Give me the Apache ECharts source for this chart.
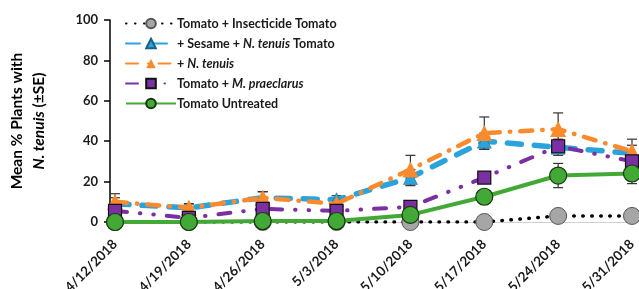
<!DOCTYPE html>
<html>
<head>
<meta charset="utf-8">
<script src="https://cdn.jsdelivr.net/npm/echarts@6/dist/echarts.min.js"></script>
<style>
  html, body { margin: 0; padding: 0; background: #fff; }
  #chart { width: 639px; height: 289px; }
</style>
</head>
<body>
<div id="chart"></div>
<script>
var dates = ['4/12/2018', '4/19/2018', '4/26/2018', '5/3/2018', '5/10/2018', '5/17/2018', '5/24/2018', '5/31/2018']
var yTicks = [0, 20, 40, 60, 80, 100]

var insecticide = [0, 0, 0, 0, 0, 0, 3, 3]
var sesameTenuis = [9, 7, 12, 11, 22, 40, 37, 34]
var tenuis = [10, 7, 12, 9, 26, 44, 46, 35]
var praeclarus = [5.5, 2, 6.5, 5.5, 7.5, 22, 37.5, 30]
var untreated = [0, 0, 0.5, 0.5, 3.5, 12.5, 23, 24]

// standard errors
var insecticideSE = [0, 0, 0, 0, 0, 0, 1, 1]
var sesameTenuisSE = [3, 2, 3, 2, 4, 4, 4, 4]
var tenuisSE = [4, 2, 3, 2, 7, 8, 8, 6]
var praeclarusSE = [2, 1, 2, 1, 2, 2, 3, 3]
var untreatedSE = [0, 0, 0, 0, 1, 2, 6, 5]

var legendLabels = {
  ins: 'Tomato + Insecticide Tomato',
  ses: '+ Sesame + {i|N. tenuis} Tomato',
  ten: '+ {i|N. tenuis}',
  pra: 'Tomato + {i|M. praeclarus}',
  unt: 'Tomato Untreated'
}

var font = 'Lato, "Open Sans", sans-serif'

function errData(vals, se) {
  var out = []
  for (var i = 0; i < vals.length; i++) {
    if (se[i] > 0) out.push([i, vals[i] - se[i], vals[i] + se[i]])
  }
  return out
}

function errSeries(vals, se) {
  return {
    type: 'custom',
    silent: true,
    z: 1,
    data: errData(vals, se),
    renderItem: function (params, api) {
      var x = api.value(0)
      var lo = api.coord([x, api.value(1)])
      var hi = api.coord([x, api.value(2)])
      var w = 5
      var st = { stroke: '#333', lineWidth: 1.2 }
      return {
        type: 'group',
        children: [
          { type: 'line', shape: { x1: hi[0], y1: hi[1], x2: lo[0], y2: lo[1] }, style: st },
          { type: 'line', shape: { x1: hi[0] - w, y1: hi[1], x2: hi[0] + w, y2: hi[1] }, style: st },
          { type: 'line', shape: { x1: lo[0] - w, y1: lo[1], x2: lo[0] + w, y2: lo[1] }, style: st }
        ]
      }
    }
  }
}

var chart = echarts.init(document.getElementById('chart'))
var option = {
  backgroundColor: '#fff',
  animation: false,
  grid: { left: 115, right: 7, top: 20, bottom: 67, outerBoundsMode: 'none' },
  legend: {
    orient: 'vertical',
    left: 120,
    top: 12,
    itemWidth: 50,
    itemHeight: 12,
    itemGap: 7,
    data: ['ins', 'ses', 'ten', 'pra', 'unt'],
    formatter: function (n) { return legendLabels[n] },
    textStyle: {
      fontFamily: font, fontWeight: 'bold', fontSize: 12.5, color: '#1a1a1a', padding: [0, 0, 0, -4],
      rich: { i: { fontFamily: font, fontWeight: 'bold', fontStyle: 'italic', fontSize: 12.5, color: '#1a1a1a' } }
    }
  },
  xAxis: {
    type: 'category',
    boundaryGap: false,
    data: dates,
    axisLine: { show: true, lineStyle: { color: '#d0d0d0', width: 1 } },
    axisTick: { show: false },
    axisLabel: { rotate: 45, margin: 20, fontFamily: font, fontWeight: 'bold', fontSize: 13.5, color: '#1a1a1a' }
  },
  yAxis: {
    type: 'value',
    min: yTicks[0],
    max: yTicks[yTicks.length - 1],
    interval: 20,
    offset: 5,
    splitLine: { show: false },
    axisLine: { show: true, lineStyle: { color: '#000', width: 1.5 } },
    axisTick: { show: true, length: 6, lineStyle: { color: '#000', width: 1.5 } },
    axisLabel: { margin: 12, fontFamily: font, fontWeight: 'bold', fontSize: 13, color: '#1a1a1a' },
    name: 'Mean % Plants with\n{i|N. tenuis} (±SE)',
    nameLocation: 'middle',
    nameRotate: 90,
    nameGap: 60,
    nameTextStyle: {
      fontFamily: font, fontWeight: 'bold', fontSize: 15.5, color: '#000', lineHeight: 22,
      rich: { i: { fontFamily: font, fontWeight: 'bold', fontStyle: 'italic', fontSize: 15.5, color: '#000', lineHeight: 22 } }
    }
  },
  series: [
    errSeries(insecticide, insecticideSE),
    errSeries(sesameTenuis, sesameTenuisSE),
    errSeries(tenuis, tenuisSE),
    errSeries(praeclarus, praeclarusSE),
    errSeries(untreated, untreatedSE),
    {
      name: 'ins', type: 'line', data: insecticide, z: 2,
      symbol: 'circle', symbolSize: 17,
      itemStyle: { color: '#a6a6a6', borderColor: '#555', borderWidth: 1 },
      lineStyle: { color: '#000', width: 3.5, type: [0.5, 8.5], cap: 'round' }
    },
    {
      name: 'ses', type: 'line', data: sesameTenuis, z: 3,
      symbol: 'triangle', symbolSize: 14,
      itemStyle: { color: '#2aa3dc', borderColor: '#1b5f85', borderWidth: 0.5 },
      lineStyle: { color: '#2aa3dc', width: 5.5, type: [14, 13], cap: 'round' }
    },
    {
      name: 'ten', type: 'line', data: tenuis, z: 4,
      symbol: 'triangle', symbolSize: 16,
      itemStyle: { color: '#fb8a2c' },
      lineStyle: { color: '#fb8a2c', width: 4.5, type: [12, 10, 0.5, 10], cap: 'round' }
    },
    {
      name: 'pra', type: 'line', data: praeclarus, z: 5,
      symbol: 'rect', symbolSize: 13,
      itemStyle: { color: '#7b2fa3', borderColor: '#111', borderWidth: 1.2 },
      lineStyle: { color: '#7b2fa3', width: 4, type: [12, 13, 0.5, 13, 0.5, 13], cap: 'round' }
    },
    {
      name: 'unt', type: 'line', data: untreated, z: 6,
      symbol: 'circle', symbolSize: 17,
      itemStyle: { color: '#43a936', borderColor: '#17360f', borderWidth: 1.2 },
      lineStyle: { color: '#43a936', width: 4 }
    }
  ]
}
chart.setOption(option)
</script>
</body>
</html>
